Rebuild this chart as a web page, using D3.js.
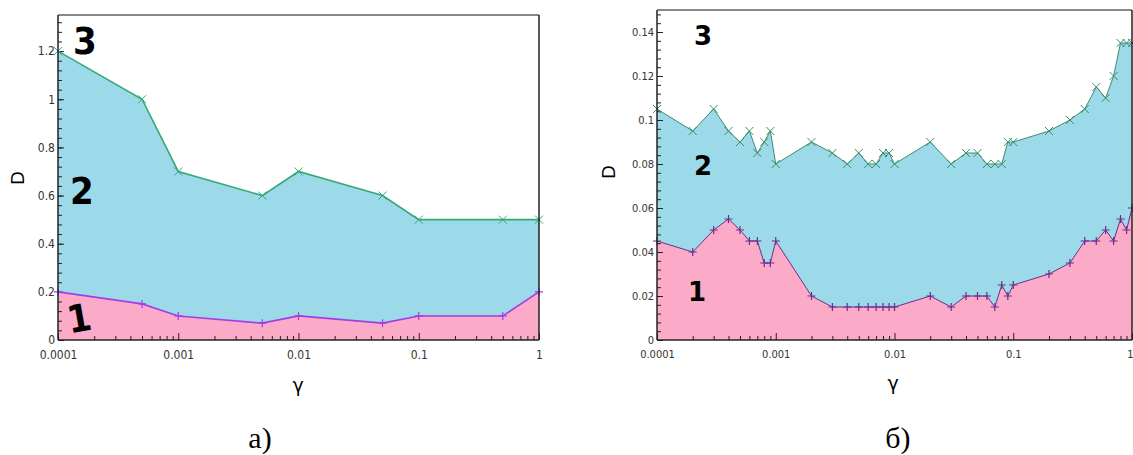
<!DOCTYPE html>
<html lang="ru">
<head>
<meta charset="UTF-8">
<title>D(γ)</title>
<style>
  body { margin: 0; background: #fff; }
  svg { display: block; }
</style>
</head>
<body>
<script src="https://d3js.org/d3.v7.min.js"></script>
<script>
// panel a)
var leftGamma = [0.0001, 0.0005, 0.001, 0.005, 0.01, 0.05, 0.1, 0.5, 1];
var leftUpper = [1.2, 1.0, 0.7, 0.6, 0.7, 0.6, 0.5, 0.5, 0.5];
var leftLower = [0.2, 0.15, 0.1, 0.07, 0.1, 0.07, 0.1, 0.1, 0.2];
var leftYTicks = [0, 0.2, 0.4, 0.6, 0.8, 1, 1.2];

// panel б)
var rightGamma = [0.0001, 0.0002, 0.0003, 0.0004, 0.0005, 0.0006, 0.0007, 0.0008, 0.0009,
                  0.001, 0.002, 0.003, 0.004, 0.005, 0.006, 0.007, 0.008, 0.009,
                  0.01, 0.02, 0.03, 0.04, 0.05, 0.06, 0.07, 0.08, 0.09,
                  0.1, 0.2, 0.3, 0.4, 0.5, 0.6, 0.7, 0.8, 0.9, 1];
var rightUpper = [0.105, 0.095, 0.105, 0.095, 0.09, 0.095, 0.085, 0.09, 0.095,
                  0.08, 0.09, 0.085, 0.08, 0.085, 0.08, 0.08, 0.085, 0.085,
                  0.08, 0.09, 0.08, 0.085, 0.085, 0.08, 0.08, 0.08, 0.09,
                  0.09, 0.095, 0.1, 0.105, 0.115, 0.11, 0.12, 0.135, 0.135, 0.135];
var rightLower = [0.045, 0.04, 0.05, 0.055, 0.05, 0.045, 0.045, 0.035, 0.035,
                  0.045, 0.02, 0.015, 0.015, 0.015, 0.015, 0.015, 0.015, 0.015,
                  0.015, 0.02, 0.015, 0.02, 0.02, 0.02, 0.015, 0.025, 0.02,
                  0.025, 0.03, 0.035, 0.045, 0.045, 0.05, 0.045, 0.055, 0.05, 0.06];
var rightYTicks = [0, 0.02, 0.04, 0.06, 0.08, 0.1, 0.12, 0.14];

var xTicks = [0.0001, 0.001, 0.01, 0.1, 1];
var regionLabels = ["1", "2", "3"];
var captions = ["а)", "б)"];

var svg = d3.select("body").append("svg")
    .attr("width", 1133)
    .attr("height", 455);

function panel(o) {
  var x = d3.scaleLog().domain([0.0001, 1]).range([o.x0, o.x1]);
  var y = d3.scaleLinear().domain([0, o.ymax]).range([o.y0, o.y1]);
  var g = svg.append("g");
  var idx = d3.range(o.gamma.length);

  // fills
  g.append("path")
      .datum(idx)
      .attr("fill", "#9cd9e9")
      .attr("d", d3.area()
        .x(function(i) { return x(o.gamma[i]); })
        .y0(function(i) { return y(o.lower[i]); })
        .y1(function(i) { return y(o.upper[i]); }));
  g.append("path")
      .datum(idx)
      .attr("fill", "#fbaac8")
      .attr("d", d3.area()
        .x(function(i) { return x(o.gamma[i]); })
        .y0(y(0))
        .y1(function(i) { return y(o.lower[i]); }));

  // minor ticks, pointing inward
  var minorX = [];
  xTicks.slice(0, -1).forEach(function(t) {
    for (var k = 2; k <= 9; k++) minorX.push(t * k);
  });
  g.append("g")
      .attr("transform", "translate(0," + o.y0 + ")")
      .call(d3.axisBottom(x).tickValues(minorX).tickSize(-4).tickFormat(""))
      .call(function(s) { s.select(".domain").remove(); s.selectAll("line").attr("stroke", "#222"); });
  g.append("g")
      .attr("transform", "translate(0," + o.y0 + ")")
      .call(d3.axisBottom(x).tickValues(xTicks).tickSize(-7).tickPadding(10)
        .tickFormat(function(d) { return d3.format("~g")(d); }))
      .call(function(s) {
        s.select(".domain").remove();
        s.selectAll("line").attr("stroke", "#222");
        s.selectAll("text").attr("fill", "#333")
          .style("font-family", "'DejaVu Sans Condensed', 'DejaVu Sans', sans-serif")
          .style("font-size", o.fs + "px");
        if (o.lastEnd) s.selectAll("text").filter(function(d) { return d === 1; })
          .attr("text-anchor", "end").attr("dx", "1px");
      });

  g.append("g")
      .attr("transform", "translate(" + o.x0 + ",0)")
      .call(d3.axisLeft(y).tickValues(d3.range(0, o.ymax + 1e-9, o.minorStep)).tickSize(-4).tickFormat(""))
      .call(function(s) { s.select(".domain").remove(); s.selectAll("line").attr("stroke", "#222"); });
  g.append("g")
      .attr("transform", "translate(" + o.x0 + ",0)")
      .call(d3.axisLeft(y).tickValues(o.yTicks).tickSize(-6).tickPadding(3)
        .tickFormat(function(d) { return d3.format("~g")(d); }))
      .call(function(s) {
        s.select(".domain").remove();
        s.selectAll("line").attr("stroke", "#222");
        s.selectAll("text").attr("fill", "#333")
          .style("font-family", "'DejaVu Sans Condensed', 'DejaVu Sans', sans-serif")
          .style("font-size", o.fs + "px");
      });

  // lines
  var line = function(arr) {
    return d3.line()
      .x(function(i) { return x(o.gamma[i]); })
      .y(function(i) { return y(arr[i]); })(idx);
  };
  g.append("path").attr("d", line(o.upper)).attr("fill", "none")
      .attr("stroke", o.green).attr("stroke-width", o.lw);
  g.append("path").attr("d", line(o.lower)).attr("fill", "none")
      .attr("stroke", o.purple).attr("stroke-width", o.lw);

  // markers
  var m = 4;
  g.selectAll(".mx").data(idx).enter().append("path")
      .attr("d", function(i) {
        var cx = x(o.gamma[i]), cy = y(o.upper[i]);
        return "M" + (cx - m) + "," + (cy - m) + "L" + (cx + m) + "," + (cy + m) +
               "M" + (cx - m) + "," + (cy + m) + "L" + (cx + m) + "," + (cy - m);
      })
      .attr("stroke", o.green).attr("stroke-width", 1);
  g.selectAll(".mp").data(idx).enter().append("path")
      .attr("d", function(i) {
        var cx = x(o.gamma[i]), cy = y(o.lower[i]);
        return "M" + (cx - m) + "," + cy + "L" + (cx + m) + "," + cy +
               "M" + cx + "," + (cy - m) + "L" + cx + "," + (cy + m);
      })
      .attr("stroke", o.purple).attr("stroke-width", 1.2);

  // frame
  g.append("line").attr("x1", o.x0).attr("x2", o.x1).attr("y1", o.y1).attr("y2", o.y1)
      .attr("stroke", "#888").attr("stroke-width", 2);
  g.append("line").attr("x1", o.x1).attr("x2", o.x1).attr("y1", o.y1).attr("y2", o.y0)
      .attr("stroke", "#222").attr("stroke-width", 1.5);
  g.append("line").attr("x1", o.x0).attr("x2", o.x0).attr("y1", o.y1).attr("y2", o.y0)
      .attr("stroke", "#222").attr("stroke-width", 1.5);
  g.append("line").attr("x1", o.x0).attr("x2", o.x1).attr("y1", o.y0).attr("y2", o.y0)
      .attr("stroke", "#222").attr("stroke-width", 1.5);

  // axis titles
  g.append("text")
      .attr("transform", "translate(" + o.dx + "," + o.dy + ") rotate(-90)")
      .attr("text-anchor", "middle").attr("dy", "0.35em")
      .style("font-family", "'DejaVu Sans', sans-serif").style("font-size", "18px")
      .text("D");
  g.append("text")
      .attr("x", o.gx).attr("y", o.gy)
      .attr("text-anchor", "middle").attr("dy", "0.35em")
      .style("font-family", "'DejaVu Sans', sans-serif").style("font-size", "19px")
      .text("γ");

  // region numbers
  o.nums.forEach(function(p, k) {
    g.append("text")
        .attr("x", p[0]).attr("y", p[1])
        .attr("text-anchor", "middle").attr("dy", "0.36em")
        .attr("transform", p[2] ? "rotate(" + p[2] + "," + p[0] + "," + p[1] + ")" : null)
        .style("font-family", o.numFont).style("font-weight", "bold")
        .style("font-size", o.numSize + "px")
        .text(regionLabels[k]);
  });

  svg.append("text")
      .attr("x", o.cx).attr("y", 437)
      .attr("text-anchor", "middle").attr("dy", "0.35em")
      .style("font-family", "'Liberation Serif', serif").style("font-size", "30px")
      .text(o.caption);
}

panel({
  gamma: leftGamma, upper: leftUpper, lower: leftLower, yTicks: leftYTicks,
  ymax: 1.35, minorStep: 0.04,
  x0: 58, x1: 539, y0: 340, y1: 15, fs: 12,
  green: "#35a878", purple: "#a23ee6", lw: 1.6,
  dx: 18, dy: 178, gx: 298, gy: 385,
  nums: [[79, 318, -10], [82, 190, 0], [85, 40, 0]], numSize: 38,
  numFont: "'DejaVu Sans Condensed', 'DejaVu Sans', sans-serif",
  cx: 260, caption: captions[0]
});

panel({
  gamma: rightGamma, upper: rightUpper, lower: rightLower, yTicks: rightYTicks,
  ymax: 0.15, minorStep: 0.004,
  x0: 657, x1: 1132, y0: 340, y1: 10, fs: 11, lastEnd: true,
  green: "#3d8d6c", purple: "#6b2c8e", lw: 1,
  dx: 609, dy: 172, gx: 893, gy: 383,
  nums: [[697, 292, 0], [703, 166, 0], [703, 36, 0]], numSize: 26,
  numFont: "'DejaVu Sans', sans-serif",
  cx: 898, caption: captions[1]
});
</script>
</body>
</html>
